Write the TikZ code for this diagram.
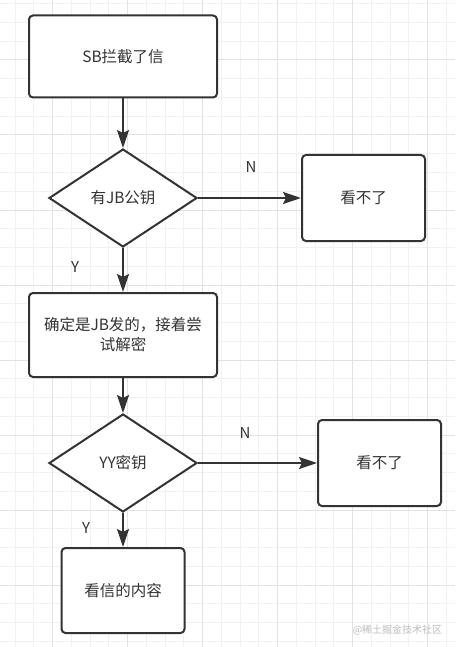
\documentclass[tikz,border=0pt]{standalone}
\usepackage{fontspec}
\setmainfont{Noto Sans CJK SC}
\usetikzlibrary{shapes.geometric,arrows.meta}
\definecolor{edge}{HTML}{333333}
\definecolor{minorgrid}{HTML}{F1F1F1}
\definecolor{majorgrid}{HTML}{E2E2E2}
\definecolor{mark}{HTML}{BDBDBD}

\begin{document}
\begin{tikzpicture}[x=1pt,y=-1pt,
  box/.style={rectangle,rounded corners=4pt,draw=edge,line width=2pt,fill=white,
    text=edge,align=center,inner sep=0pt,font=\fontsize{15.5}{20}\selectfont},
  decision/.style={diamond,draw=edge,line width=2pt,fill=white,text=edge,
    inner sep=0pt,minimum width=148pt,minimum height=98pt,font=\fontsize{15.5}{20}\selectfont},
  flow/.style={draw=edge,line width=2pt,-{Stealth[length=18pt,width=12pt,inset=3pt]}},
  tag/.style={text=edge,font=\fontsize{15}{18}\selectfont}]

\useasboundingbox (0,0) rectangle (455,647);
\fill[white] (0,0) rectangle (455,647);

% background grid
\foreach \i in {0,...,25} {
  \pgfmathsetmacro\gx{-3.55+18.75*\i}
  \draw[minorgrid,line width=1pt] (\gx,0) -- (\gx,647);
}
\foreach \i in {0,...,34} {
  \pgfmathsetmacro\gy{3.75+18.75*\i}
  \draw[minorgrid,line width=1pt] (0,\gy) -- (455,\gy);
}
\foreach \i in {0,...,5} {
  \pgfmathsetmacro\gx{52.7+75*\i}
  \draw[majorgrid,line width=1pt] (\gx,0) -- (\gx,647);
}
\foreach \i in {0,...,7} {
  \pgfmathsetmacro\gy{60+75*\i}
  \draw[majorgrid,line width=1pt] (0,\gy) -- (455,\gy);
}

\node[box,minimum width=188pt,minimum height=82pt] (sb) at (123,56.5) {SB拦截了信};
\node[decision] (hasjb) at (123,198) {有JB公钥};
\node[box,minimum width=123pt,minimum height=86pt] (nope1) at (363.5,198) {看不了};
\node[box,minimum width=188pt,minimum height=84pt] (confirm) at (123,335) {确定是JB发的，接着尝\\试解密};
\node[decision] (hasyy) at (123,463) {YY密钥};
\node[box,minimum width=123pt,minimum height=86pt] (nope2) at (379.5,463) {看不了};
\node[box,minimum width=123pt,minimum height=85pt] (read) at (123,590.5) {看信的内容};

\draw[flow] (sb) -- (hasjb);
\draw[flow] (hasjb) -- (nope1);
\draw[flow] (hasjb) -- (confirm);
\draw[flow] (confirm) -- (hasyy);
\draw[flow] (hasyy) -- (nope2);
\draw[flow] (hasyy) -- (read);

\node[tag] (n1) at (251,167) {N};
\node[tag] (y1) at (75,267) {Y};
\node[tag] (n2) at (245,433) {N};
\node[tag] (y2) at (86,528) {Y};

\node[text=mark,font=\fontsize{10}{12}\selectfont] (wm) at (397.5,630) {@稀土掘金技术社区};

\end{tikzpicture}
\end{document}
